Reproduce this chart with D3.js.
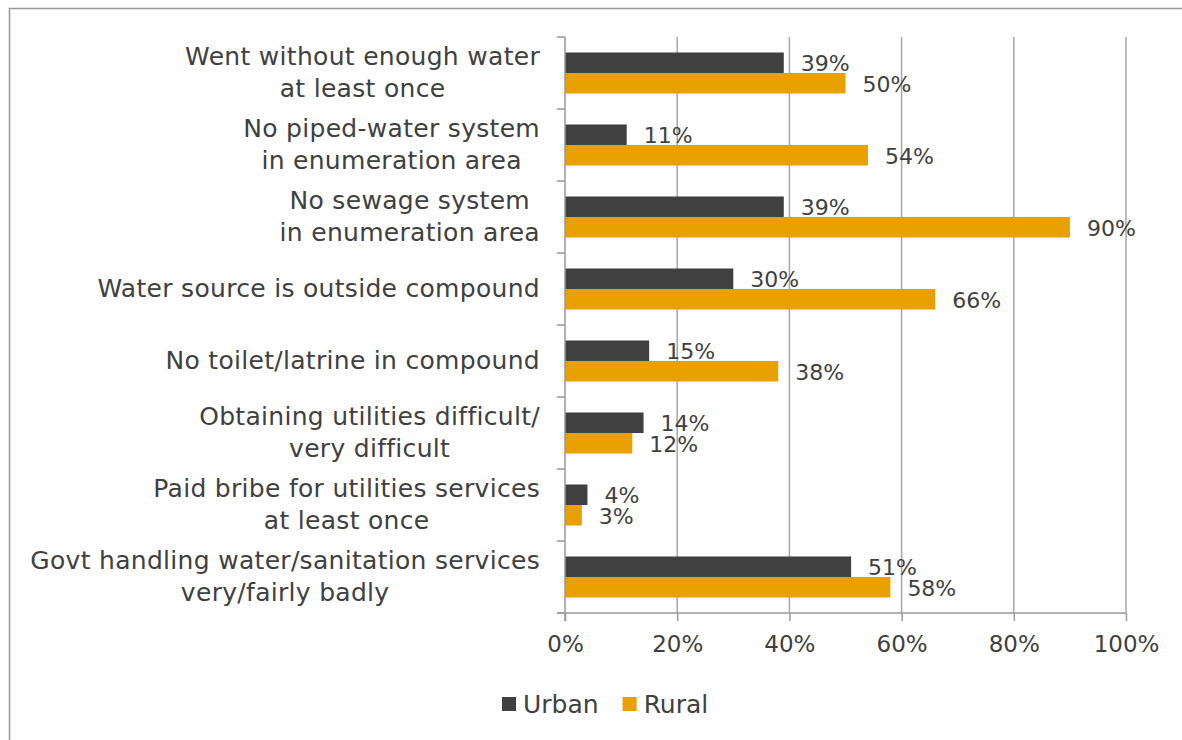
<!DOCTYPE html>
<html>
<head>
<meta charset="utf-8">
<script src="https://cdn.jsdelivr.net/npm/d3@7"></script>
<style>
  body { margin: 0; background: #fff; }
  text { font-family: "DejaVu Sans", sans-serif; fill: #404040; }
</style>
</head>
<body>
<svg id="chart" width="1182" height="740"></svg>
<script>
var categories = [
  ["Went without enough water", "at least once"],
  ["No piped-water system", "in enumeration area"],
  ["No sewage system ", "in enumeration area"],
  ["Water source is outside compound"],
  ["No toilet/latrine in compound"],
  ["Obtaining utilities difficult/", "very difficult"],
  ["Paid bribe for utilities services", "at least once"],
  ["Govt handling water/sanitation services", "very/fairly badly"]
];
var urban = [39, 11, 39, 30, 15, 14, 4, 51];
var rural = [50, 54, 90, 66, 38, 12, 3, 58];
var seriesNames = ["Urban", "Rural"];
var xTicks = [0, 20, 40, 60, 80, 100];

var colors = { Urban: "#404040", Rural: "#e8a000" };
var plotLeft = 565, plotRight = 1126, plotTop = 37, plotBottom = 613;

var svg = d3.select("#chart");

// outer frame
svg.append("path")
  .attr("d", "M9.5,740 V8.5 H1182")
  .attr("fill", "none").attr("stroke", "#999").attr("stroke-width", 1.5);

var x = d3.scaleLinear().domain([0, 100]).range([plotLeft, plotRight]);
var y = d3.scaleBand().domain(d3.range(categories.length)).range([plotTop, plotBottom]).paddingInner(0.43).paddingOuter(0.215);
var band = d3.scaleBand().domain(seriesNames).range([0, y.bandwidth()]);

// gridlines
svg.append("g").selectAll("line").data(xTicks.slice(1)).join("line")
  .attr("x1", function(d) { return x(d); }).attr("x2", function(d) { return x(d); })
  .attr("y1", plotTop).attr("y2", plotBottom)
  .attr("stroke", "#a6a6a6").attr("stroke-width", 1.5);

var rows = categories.map(function(c, i) {
  return { i: i, Urban: urban[i], Rural: rural[i] };
});

var groups = svg.append("g").selectAll("g").data(rows).join("g")
  .attr("transform", function(d) { return "translate(0," + y(d.i) + ")"; });

groups.selectAll("rect").data(function(d) {
  return seriesNames.map(function(s) { return { s: s, v: d[s] }; });
}).join("rect")
  .attr("x", x(0))
  .attr("y", function(d) { return band(d.s); })
  .attr("width", function(d) { return x(d.v) - x(0); })
  .attr("height", band.bandwidth())
  .attr("fill", function(d) { return colors[d.s]; });

groups.selectAll("text.val").data(function(d) {
  return seriesNames.map(function(s) { return { s: s, v: d[s] }; });
}).join("text")
  .attr("class", "val")
  .attr("x", function(d) { return x(d.v) + 17; })
  .attr("y", function(d) { return band(d.s) + band.bandwidth() / 2 + 1; })
  .attr("dominant-baseline", "central")
  .attr("font-size", 22)
  .text(function(d) { return d.v + "%"; });

// left axis line + ticks at category boundaries
var yAxis = svg.append("g").attr("stroke", "#999").attr("stroke-width", 1.5);
yAxis.append("line").attr("x1", plotLeft).attr("x2", plotLeft).attr("y1", plotTop).attr("y2", plotBottom + 8);
var step = y.step();
yAxis.selectAll("line.tk").data(d3.range(categories.length + 1)).join("line")
  .attr("class", "tk")
  .attr("x1", plotLeft - 8).attr("x2", plotLeft)
  .attr("y1", function(d) { return plotTop + d * step; })
  .attr("y2", function(d) { return plotTop + d * step; });

// bottom axis
var xAxis = svg.append("g").attr("transform", "translate(0," + plotBottom + ")")
  .call(d3.axisBottom(x).tickValues(xTicks).tickSize(8).tickPadding(15).tickFormat(function(d) { return d + "%"; }));
xAxis.select(".domain").attr("stroke", "#999").attr("stroke-width", 1.5)
  .attr("d", "M" + (plotLeft - 8) + ",0H" + plotRight);
xAxis.selectAll(".tick line").attr("stroke", "#999").attr("stroke-width", 1.5);
xAxis.selectAll(".tick text").attr("font-size", 23).attr("font-family", "DejaVu Sans").attr("fill", "#404040");

// category labels: lines centred on each other, block right-aligned
var labelRight = 540;
categories.forEach(function(lines, i) {
  var cy = y(i) + y.bandwidth() / 2;
  var g = svg.append("g");
  var texts = lines.map(function(l, k) {
    return g.append("text")
      .attr("font-size", 25)
      .attr("letter-spacing", 0.3)
      .attr("text-anchor", "middle")
      .attr("dominant-baseline", "central")
      .attr("y", cy - 1 + (k - (lines.length - 1) / 2) * 32)
      .text(l);
  });
  var w = d3.max(texts, function(t) { return t.node().getComputedTextLength(); });
  texts.forEach(function(t) { t.attr("x", labelRight - w / 2); });
});

// legend
var legend = svg.append("g").attr("transform", "translate(502,704)");
var lx = 0;
seriesNames.forEach(function(s) {
  legend.append("rect").attr("x", lx).attr("y", -7).attr("width", 14).attr("height", 14).attr("fill", colors[s]);
  var t = legend.append("text").attr("x", lx + 21).attr("y", 0)
    .attr("dominant-baseline", "central").attr("font-size", 25).text(s);
  lx += 21 + t.node().getComputedTextLength() + 24;
});
</script>
</body>
</html>
